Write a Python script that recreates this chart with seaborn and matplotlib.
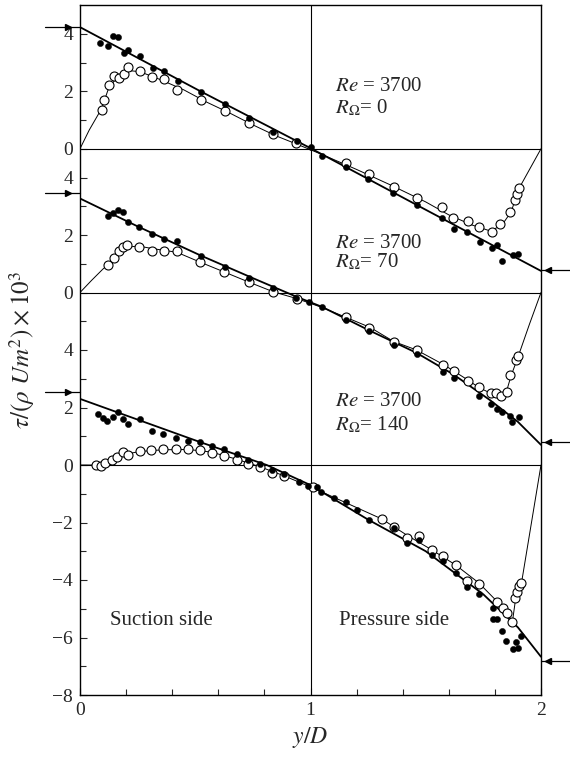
import numpy as np
import pandas as pd
import matplotlib
matplotlib.use("Agg")
import matplotlib.pyplot as plt
import seaborn as sns

sns.set_theme(style="white")
plt.rcParams['font.family'] = ['Liberation Serif', 'DejaVu Serif']
plt.rcParams['mathtext.fontset'] = 'stix'

# ---------------- data (local panel values) ----------------
# Top panel: Re = 3700, R_Omega = 0
top_fill_x = [0.087, 0.121, 0.143, 0.165, 0.191, 0.208, 0.260, 0.317, 0.364, 0.425, 0.525, 0.629, 0.733, 0.837, 0.941,
              1.0, 1.05, 1.154, 1.251, 1.359, 1.464, 1.572, 1.624, 1.680, 1.735, 1.786, 1.810, 1.829, 1.880, 1.902]
top_fill_y = [3.67, 3.58, 3.91, 3.89, 3.34, 3.44, 3.24, 2.82, 2.72, 2.36, 1.98, 1.54, 1.07, 0.60, 0.26,
              0.05, -0.25, -0.62, -1.04, -1.55, -1.96, -2.41, -2.80, -2.88, -3.26, -3.46, -3.34, -3.89, -3.69, -3.66]
top_open_x = [0.094, 0.104, 0.126, 0.148, 0.171, 0.191, 0.207, 0.260, 0.312, 0.366, 0.419, 0.524, 0.629, 0.733, 0.839,
              0.937, 1.154, 1.255, 1.364, 1.464, 1.572, 1.620, 1.682, 1.733, 1.786, 1.822, 1.866, 1.887, 1.897, 1.906]
top_open_y = [1.36, 1.68, 2.21, 2.53, 2.45, 2.60, 2.85, 2.70, 2.50, 2.42, 2.04, 1.71, 1.33, 0.89, 0.52,
              0.19, -0.50, -0.89, -1.32, -1.71, -2.04, -2.41, -2.53, -2.73, -2.88, -2.62, -2.20, -1.79, -1.57, -1.36]
top_thin_x = [0, 0.04, 0.094, 0.126, 0.17, 0.21, 0.26, 0.35, 0.45, 0.55, 0.65, 0.75, 0.85, 0.95, 1.05, 1.2, 1.35,
              1.5, 1.6, 1.7, 1.78, 1.83, 1.87, 1.906, 2.0]
top_thin_y = [0, 0.65, 1.4, 2.15, 2.55, 2.72, 2.68, 2.4, 2.05, 1.62, 1.24, 0.83, 0.45, 0.13, -0.2, -0.72, -1.27,
              -1.85, -2.3, -2.65, -2.86, -2.66, -2.2, -1.36, 0]
top_thick_x = [0, 0.52, 1.0, 1.49, 2.0]
top_thick_y = [4.23, 2.01, 0.02, -2.08, -4.25]

# Middle panel: Re = 3700, R_Omega = 70
mid_fill_x = [0.123, 0.145, 0.166, 0.188, 0.207, 0.257, 0.311, 0.364, 0.419, 0.524, 0.629, 0.733, 0.839, 0.937,
              0.995, 1.049, 1.154, 1.255, 1.364, 1.464, 1.576, 1.624, 1.733, 1.783, 1.81, 1.829, 1.866, 1.873, 1.905]
mid_fill_y = [2.66, 2.78, 2.87, 2.81, 2.46, 2.28, 2.02, 1.87, 1.79, 1.26, 0.90, 0.49, 0.15, -0.18,
              -0.32, -0.49, -0.94, -1.35, -1.81, -2.14, -2.75, -2.96, -3.60, -3.89, -4.04, -4.15, -4.30, -4.50, -4.33]
mid_open_x = [0.123, 0.148, 0.169, 0.188, 0.203, 0.257, 0.311, 0.364, 0.419, 0.521, 0.626, 0.733, 0.839, 0.94,
              1.154, 1.255, 1.364, 1.464, 1.576, 1.624, 1.685, 1.733, 1.783, 1.805, 1.826, 1.851, 1.866, 1.892, 1.902]
mid_open_y = [0.97, 1.19, 1.46, 1.58, 1.64, 1.60, 1.46, 1.46, 1.43, 1.05, 0.70, 0.37, 0.02, -0.21,
              -0.85, -1.23, -1.73, -1.99, -2.52, -2.73, -3.08, -3.30, -3.51, -3.48, -3.59, -3.47, -2.87, -2.36, -2.20]
mid_thin_x = [0, 0.05, 0.1, 0.123, 0.15, 0.19, 0.25, 0.32, 0.42, 0.52, 0.63, 0.73, 0.84, 0.94, 1.05, 1.15, 1.26,
              1.36, 1.46, 1.58, 1.68, 1.73, 1.78, 1.83, 1.85, 1.87, 1.9, 1.95, 2.0]
mid_thin_y = [0, 0.42, 0.82, 0.97, 1.22, 1.55, 1.62, 1.52, 1.4, 1.06, 0.7, 0.37, 0.02, -0.21, -0.52, -0.85, -1.22,
              -1.7, -2.0, -2.52, -3.03, -3.3, -3.5, -3.6, -3.45, -2.9, -2.25, -1.1, 0]
mid_thick_x = [0, 0.25, 0.52, 0.75, 0.94, 1.05, 1.25, 1.46, 1.62, 1.78, 1.9, 2.0]
mid_thick_y = [3.27, 2.3, 1.3, 0.5, -0.15, -0.5, -1.3, -2.1, -2.85, -3.75, -4.5, -5.3]

# Bottom panel: Re = 3700, R_Omega = 140
bot_fill_x = [0.079, 0.098, 0.119, 0.145, 0.166, 0.188, 0.210, 0.260, 0.311, 0.361, 0.415, 0.467, 0.521, 0.571,
              0.625, 0.680, 0.728, 0.781, 0.832, 0.885, 0.95, 0.99, 1.027, 1.046, 1.102, 1.154, 1.203, 1.255,
              1.364, 1.417, 1.472, 1.526, 1.576, 1.630, 1.680, 1.731, 1.790, 1.793, 1.808, 1.829, 1.848, 1.877,
              1.892, 1.902, 1.912]
bot_fill_y = [1.79, 1.62, 1.53, 1.68, 1.83, 1.60, 1.44, 1.59, 1.18, 1.08, 0.95, 0.85, 0.81, 0.66,
              0.54, 0.37, 0.17, 0.02, -0.17, -0.33, -0.58, -0.72, -0.76, -0.93, -1.14, -1.28, -1.57, -1.91,
              -2.2, -2.73, -2.61, -3.13, -3.34, -3.74, -4.23, -4.50, -4.96, -5.36, -5.34, -5.76, -6.12, -6.40,
              -6.15, -6.36, -5.94]
bot_open_x = [0.07, 0.09, 0.11, 0.137, 0.16, 0.188, 0.21, 0.26, 0.31, 0.36, 0.415, 0.467, 0.521, 0.571, 0.625,
              0.68, 0.728, 0.781, 0.832, 0.885, 1.012, 1.309, 1.364, 1.417, 1.472, 1.526, 1.576, 1.630, 1.680,
              1.731, 1.808, 1.834, 1.854, 1.876, 1.888, 1.895, 1.905, 1.915]
bot_open_y = [0, -0.03, 0.06, 0.17, 0.29, 0.44, 0.35, 0.49, 0.52, 0.54, 0.54, 0.54, 0.52, 0.43, 0.32,
              0.17, 0.02, -0.08, -0.29, -0.38, -0.78, -1.88, -2.15, -2.55, -2.46, -2.96, -3.16, -3.48, -4.02,
              -4.15, -4.78, -4.96, -5.16, -5.45, -4.62, -4.40, -4.22, -4.12]
bot_thin_x = [0, 0.07, 0.1, 0.15, 0.2, 0.26, 0.36, 0.47, 0.57, 0.68, 0.78, 0.88, 1.0, 1.15, 1.31, 1.42, 1.53,
              1.63, 1.73, 1.81, 1.85, 1.876, 1.89, 1.915, 2.0]
bot_thin_y = [0, 0, 0.03, 0.22, 0.38, 0.47, 0.53, 0.54, 0.45, 0.2, -0.06, -0.36, -0.76, -1.3, -1.88, -2.45, -2.97,
              -3.48, -4.1, -4.75, -5.12, -5.45, -4.65, -4.12, 0]
bot_thick_x = [0, 0.26, 0.52, 0.81, 1.0, 1.25, 1.5, 1.75, 1.9, 2.0]
bot_thick_y = [2.3, 1.55, 0.8, 0.0, -0.7, -1.9, -3.0, -4.5, -5.65, -6.67]

panel_names = ["top", "mid", "bot"]
panel_offset = {"top": 11, "mid": 6, "bot": 0}
rotation_numbers = {"top": "0", "mid": "70", "bot": "140"}
wall_left = {"top": 4.25, "mid": 3.45, "bot": 2.55}
wall_right = {"top": -4.2, "mid": -5.2, "bot": -6.81}

ytick_pos = [-8, -6, -4, -2, 0, 2, 4, 6, 8, 10, 11, 13, 15]
ytick_lab = ["\u22128", "\u22126", "\u22124", "\u22122", "0", "2", "4", "0", "2", "4", "0", "2", "4"]
yminor_pos = [-7, -5, -3, -1, 1, 3, 5, 7, 9, 12, 14]

series = {
    "top": (top_fill_x, top_fill_y, top_open_x, top_open_y, top_thin_x, top_thin_y, top_thick_x, top_thick_y),
    "mid": (mid_fill_x, mid_fill_y, mid_open_x, mid_open_y, mid_thin_x, mid_thin_y, mid_thick_x, mid_thick_y),
    "bot": (bot_fill_x, bot_fill_y, bot_open_x, bot_open_y, bot_thin_x, bot_thin_y, bot_thick_x, bot_thick_y),
}

def frame(xs, ys, off):
    return pd.DataFrame({"x": xs, "y": np.asarray(ys, float) + off})

fig = plt.figure(figsize=(5.7, 7.6), dpi=100)
ax = fig.add_axes([80 / 570, 65 / 760, 461 / 570, 690 / 760])

# panel baselines and centre line
for p in panel_names:
    ax.axhline(panel_offset[p], color="black", lw=0.8, zorder=1)
ax.axvline(1.0, color="black", lw=0.8, zorder=1)

for p in panel_names:
    fx, fy, ox, oy, tx, ty, kx, ky = series[p]
    off = panel_offset[p]
    sns.lineplot(data=frame(kx, ky, off), x="x", y="y", ax=ax, color="black", lw=1.3,
                 sort=False, estimator=None, zorder=2)
    sns.lineplot(data=frame(tx, ty, off), x="x", y="y", ax=ax, color="black", lw=0.7,
                 sort=False, estimator=None, zorder=2)
    sns.scatterplot(data=frame(ox, oy, off), x="x", y="y", ax=ax, s=42, facecolor="white",
                    edgecolor="black", linewidth=0.8, zorder=3)
    sns.scatterplot(data=frame(fx, fy, off), x="x", y="y", ax=ax, s=20, color="black",
                    edgecolor="black", linewidth=0.3, zorder=4)
    # wall shear arrows
    yl = wall_left[p] + off
    ax.plot([-0.152, 0.0], [yl, yl], color="black", lw=0.9, clip_on=False)
    ax.plot([-0.05], [yl], marker=">", color="black", ms=4, clip_on=False)
    yr = wall_right[p] + off
    ax.plot([2.0, 2.13], [yr, yr], color="black", lw=0.9, clip_on=False)
    ax.plot([2.03], [yr], marker="<", color="black", ms=4, clip_on=False)

# panel annotations
re_base = {"top": 2.01, "mid": 1.55, "bot": 2.05}
ro_base = {"top": 1.24, "mid": 0.89, "bot": 1.22}
for p in panel_names:
    off = panel_offset[p]
    ax.text(1.106, re_base[p] + off, r"$Re$ = 3700", fontsize=15, va="baseline", ha="left")
    ax.text(1.106, ro_base[p] + off, r"$R_{\Omega}$= " + rotation_numbers[p], fontsize=15,
            va="baseline", ha="left")

ax.text(0.13, -5.57, "Suction side", fontsize=15, va="baseline", ha="left")
ax.text(1.124, -5.57, "Pressure side", fontsize=15, va="baseline", ha="left")

ax.set_xlim(0, 2)
ax.set_ylim(-8, 16)
ax.set_xticks([0, 1, 2])
ax.set_xticklabels(["0", "1", "2"])
ax.set_xticks(np.arange(0, 2.01, 0.2), minor=True)
ax.set_yticks(ytick_pos)
ax.set_yticklabels(ytick_lab)
ax.set_yticks(yminor_pos, minor=True)
ax.tick_params(axis="both", which="both", direction="in", labelsize=14, width=0.8,
               left=True, bottom=True, right=False, top=False)
ax.tick_params(axis="both", which="major", length=5, pad=5)
ax.tick_params(axis="both", which="minor", length=4)

for s in ax.spines.values():
    s.set_color("black")
    s.set_linewidth(1.0)

ax.set_xlabel(r"$y/D$", fontsize=17, labelpad=4)
ax.set_ylabel(r"$\tau/(\rho\ Um^2)\times 10^3$", fontsize=18, labelpad=4)
ax.yaxis.set_label_coords(-0.093, 0.5)

fig.savefig("out.png", dpi=100)
